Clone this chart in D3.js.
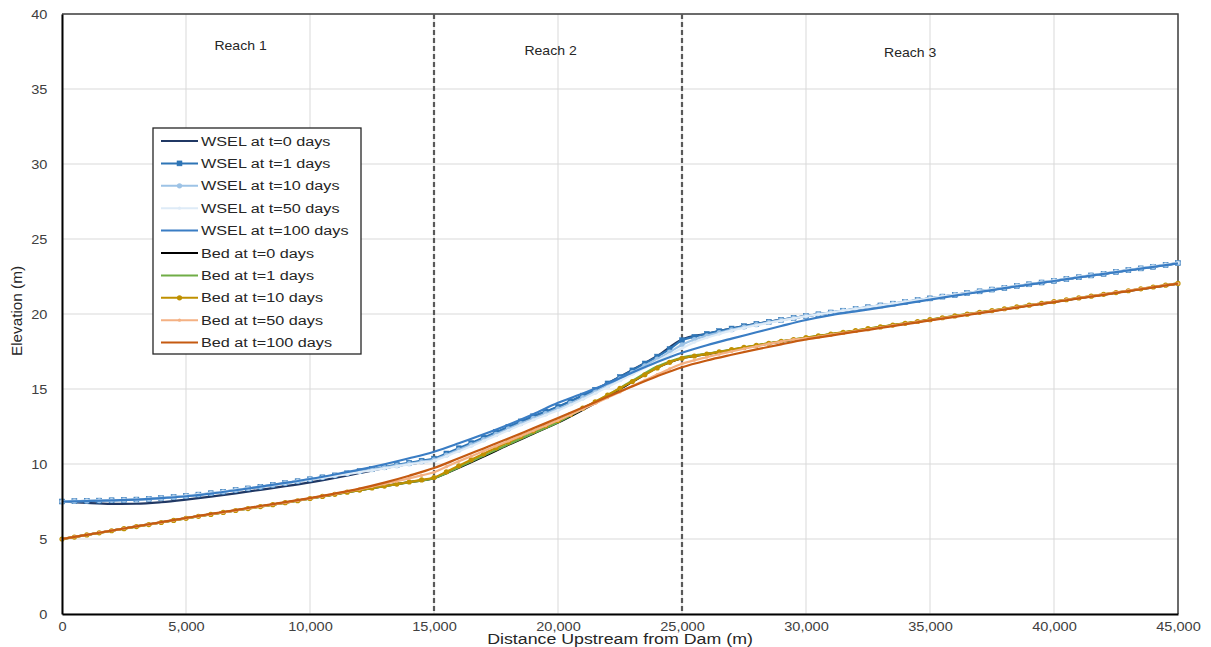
<!DOCTYPE html>
<html>
<head>
<meta charset="utf-8">
<script src="https://cdn.jsdelivr.net/npm/d3@7"></script>
<style>
body { margin: 0; background: #fff; }
svg { display: block; font-family: "Liberation Sans", Arial, sans-serif; }
</style>
</head>
<body>
<svg width="1211" height="647"></svg>
<script>
// cross-section stations (m), every 500 m and every 1000 m
var stations = [0,500,1000,1500,2000,2500,3000,3500,4000,4500,5000,5500,6000,6500,7000,7500,8000,8500,9000,9500,
  10000,10500,11000,11500,12000,12500,13000,13500,14000,14500,15000,15500,16000,16500,17000,17500,18000,18500,19000,19500,
  20000,20500,21000,21500,22000,22500,23000,23500,24000,24500,25000,25500,26000,26500,27000,27500,28000,28500,29000,29500,
  30000,30500,31000,31500,32000,32500,33000,33500,34000,34500,35000,35500,36000,36500,37000,37500,38000,38500,39000,39500,
  40000,40500,41000,41500,42000,42500,43000,43500,44000,44500,45000];
var stationsCoarse = [0,1000,2000,3000,4000,5000,6000,7000,8000,9000,10000,11000,12000,13000,14000,15000,16000,17000,18000,19000,
  20000,21000,22000,23000,24000,25000,26000,27000,28000,29000,30000,31000,32000,33000,34000,35000,36000,37000,38000,39000,
  40000,41000,42000,43000,44000,45000];

// water surface elevations (m)
var wsel0 = [7.50,7.40,7.34,7.35,7.45,7.62,7.82,8.04,8.28,8.52,
  8.78,9.08,9.40,9.72,10.00,10.28,10.95,11.68,12.42,13.12,
  13.80,14.55,15.38,16.27,17.20,18.30,18.68,19.03,19.34,19.61,
  19.86,20.10,20.33,20.57,20.80,21.04,21.27,21.51,21.74,21.98,
  22.21,22.45,22.68,22.92,23.15,23.39];
var wsel1 = [7.50,7.52,7.54,7.56,7.58,7.60,7.63,7.67,7.72,7.79,
  7.87,7.96,8.05,8.15,8.26,8.37,8.48,8.60,8.72,8.85,
  8.98,9.11,9.24,9.38,9.52,9.66,9.80,9.94,10.08,10.22,
  10.36,10.70,11.05,11.40,11.76,12.12,12.48,12.84,13.18,13.50,
  13.82,14.18,14.56,14.95,15.37,15.80,16.24,16.70,17.16,17.66,
  18.25,18.48,18.68,18.86,19.03,19.19,19.34,19.48,19.61,19.74,
  19.86,19.98,20.10,20.22,20.33,20.45,20.57,20.69,20.80,20.92,
  21.04,21.16,21.27,21.39,21.51,21.63,21.74,21.86,21.98,22.10,
  22.21,22.33,22.45,22.57,22.68,22.80,22.92,23.04,23.15,23.27,
  23.39];
var wsel10 = [7.50,7.52,7.54,7.56,7.58,7.60,7.63,7.67,7.72,7.79,
  7.87,7.96,8.05,8.15,8.26,8.37,8.48,8.60,8.72,8.85,
  8.98,9.10,9.23,9.36,9.50,9.63,9.76,9.89,10.02,10.15,
  10.28,10.60,10.94,11.28,11.63,11.98,12.34,12.70,13.04,13.36,
  13.68,14.04,14.42,14.82,15.24,15.67,16.10,16.55,17.00,17.46,
  17.95,18.30,18.55,18.76,18.95,19.13,19.29,19.44,19.59,19.73,
  19.87,19.99,20.11,20.23,20.35,20.46,20.58,20.70,20.82,20.93,
  21.05,21.17,21.29,21.40,21.52,21.64,21.76,21.87,21.99,22.11,
  22.23,22.34,22.46,22.58,22.70,22.81,22.93,23.05,23.17,23.28,
  23.40];
var wsel50 = [7.51,7.53,7.55,7.57,7.59,7.61,7.64,7.68,7.73,7.80,
  7.88,7.97,8.06,8.16,8.27,8.38,8.49,8.61,8.73,8.86,
  8.99,9.08,9.20,9.32,9.45,9.58,9.71,9.84,9.97,10.10,
  10.22,10.52,10.85,11.19,11.54,11.89,12.25,12.60,12.94,13.26,
  13.58,13.94,14.32,14.72,15.13,15.55,15.98,16.42,16.86,17.30,
  17.72,18.12,18.42,18.67,18.89,19.08,19.25,19.41,19.56,19.71,
  19.85,19.98,20.10,20.22,20.34,20.46,20.58,20.70,20.81,20.93,
  21.05,21.17,21.28,21.40,21.52,21.64,21.76,21.88,21.99,22.11,
  22.23,22.35,22.47,22.58,22.70,22.82,22.94,23.06,23.17,23.29,
  23.41];
var wsel100 = [7.50,7.53,7.57,7.63,7.72,7.85,8.03,8.25,8.49,8.74,
  9.00,9.30,9.62,9.98,10.38,10.82,11.38,11.98,12.62,13.32,
  14.08,14.70,15.36,16.10,16.80,17.42,17.92,18.36,18.78,19.20,
  19.60,19.92,20.18,20.42,20.69,20.96,21.22,21.47,21.72,21.96,
  22.20,22.44,22.67,22.91,23.14,23.38];

// bed elevations (m)
var bed0 = [5.00,5.28,5.56,5.84,6.11,6.39,6.65,6.91,7.17,7.43,
  7.70,7.98,8.26,8.53,8.79,9.06,9.75,10.50,11.28,12.02,
  12.76,13.62,14.52,15.48,16.42,17.05,17.32,17.60,17.89,18.16,
  18.40,18.64,18.88,19.12,19.36,19.61,19.85,20.09,20.33,20.57,
  20.81,21.05,21.29,21.54,21.78,22.02];
var bed1 = [5.00,5.27,5.55,5.83,6.10,6.38,6.64,6.90,7.16,7.42,
  7.69,7.97,8.25,8.52,8.78,9.05,9.78,10.55,11.32,12.05,
  12.78,13.68,14.58,15.55,16.50,17.10,17.35,17.62,17.91,18.18,
  18.42,18.66,18.90,19.14,19.38,19.62,19.87,20.11,20.35,20.59,
  20.83,21.07,21.31,21.55,21.80,22.04];
var bed10 = [5.00,5.13,5.27,5.41,5.55,5.69,5.83,5.96,6.10,6.24,
  6.38,6.51,6.64,6.77,6.90,7.03,7.16,7.29,7.42,7.55,
  7.70,7.84,7.98,8.12,8.26,8.40,8.53,8.66,8.80,8.94,
  9.10,9.48,9.88,10.28,10.68,11.08,11.46,11.84,12.20,12.55,
  12.90,13.30,13.72,14.15,14.60,15.05,15.50,15.95,16.40,16.78,
  17.05,17.20,17.33,17.47,17.62,17.77,17.91,18.05,18.18,18.30,
  18.42,18.54,18.66,18.78,18.90,19.02,19.14,19.26,19.38,19.50,
  19.62,19.75,19.87,19.99,20.11,20.23,20.35,20.47,20.59,20.71,
  20.83,20.95,21.07,21.19,21.31,21.43,21.55,21.68,21.80,21.92,
  22.04];
var bed50 = [5.00,5.14,5.28,5.42,5.56,5.70,5.84,5.97,6.11,6.25,
  6.39,6.52,6.65,6.78,6.91,7.04,7.17,7.30,7.43,7.57,
  7.71,7.86,8.01,8.17,8.33,8.50,8.67,8.85,9.04,9.24,
  9.45,9.82,10.18,10.52,10.86,11.20,11.54,11.88,12.22,12.56,
  12.92,13.28,13.66,14.04,14.42,14.80,15.20,15.58,15.96,16.34,
  16.68,16.92,17.12,17.32,17.50,17.68,17.85,18.01,18.16,18.30,
  18.38,18.48,18.61,18.73,18.86,18.98,19.10,19.23,19.35,19.47,
  19.60,19.72,19.84,19.97,20.09,20.21,20.33,20.46,20.58,20.70,
  20.82,20.95,21.07,21.19,21.31,21.44,21.56,21.68,21.80,21.92,
  22.03];
var bed100 = [5.00,5.28,5.56,5.84,6.12,6.40,6.67,6.93,7.20,7.46,
  7.73,8.03,8.36,8.76,9.22,9.73,10.38,11.04,11.70,12.38,
  13.06,13.76,14.48,15.18,15.85,16.45,16.90,17.28,17.64,17.98,
  18.30,18.56,18.82,19.07,19.32,19.57,19.81,20.06,20.30,20.55,
  20.79,21.04,21.28,21.53,21.77,22.02];

var seriesNames = ["WSEL at t=0 days","WSEL at t=1 days","WSEL at t=10 days","WSEL at t=50 days","WSEL at t=100 days",
  "Bed at t=0 days","Bed at t=1 days","Bed at t=10 days","Bed at t=50 days","Bed at t=100 days"];
var xTicks = [0,5000,10000,15000,20000,25000,30000,35000,40000,45000];
var yTicks = [0,5,10,15,20,25,30,35,40];
var reachBounds = [15000, 25000];
var reachNames = ["Reach 1", "Reach 2", "Reach 3"];

var svg = d3.select("svg"),
    plotL = 62, plotR = 1178, plotT = 14, plotB = 614;

var x = d3.scaleLinear().domain([0, 45000]).range([plotL, plotR]),
    y = d3.scaleLinear().domain([0, 40]).range([plotB, plotT]);

// series styles, in drawing order
var series = [
  {xs: stationsCoarse, ys: wsel0,  color: "#203864", marker: null},
  {xs: stations,       ys: wsel1,  color: "#2e75b6", marker: "square"},
  {xs: stations,       ys: wsel10, color: "#9dc3e6", marker: "circle"},
  {xs: stations,       ys: wsel50, color: "#deebf7", marker: "small"},
  {xs: stationsCoarse, ys: wsel100,color: "#3a7dc4", marker: null},
  {xs: stationsCoarse, ys: bed0,   color: "#000000", marker: null},
  {xs: stationsCoarse, ys: bed1,   color: "#70ad47", marker: null},
  {xs: stations,       ys: bed10,  color: "#bf9000", marker: "circle"},
  {xs: stations,       ys: bed50,  color: "#f4b183", marker: "small"},
  {xs: stationsCoarse, ys: bed100, color: "#c55a11", marker: null}
];
series.forEach(function(s, i) {
  s.name = seriesNames[i];
  s.points = s.xs.map(function(d, j) { return [d, s.ys[j]]; });
});

// gridlines
svg.append("g").selectAll("line").data(yTicks).join("line")
    .attr("x1", plotL).attr("x2", plotR)
    .attr("y1", function(d) { return y(d); }).attr("y2", function(d) { return y(d); })
    .attr("stroke", "#d9d9d9").attr("stroke-width", 1);
svg.append("g").selectAll("line").data(xTicks).join("line")
    .attr("x1", function(d) { return x(d); }).attr("x2", function(d) { return x(d); })
    .attr("y1", plotT).attr("y2", plotB)
    .attr("stroke", "#d9d9d9").attr("stroke-width", 1);

// top and right frame
svg.append("path")
    .attr("d", "M" + plotL + "," + plotT + "H" + plotR + "V" + plotB)
    .attr("fill", "none").attr("stroke", "#404040").attr("stroke-width", 1.5);

// reach boundaries
svg.append("g").selectAll("line").data(reachBounds).join("line")
    .attr("x1", function(d) { return x(d); }).attr("x2", function(d) { return x(d); })
    .attr("y1", plotT).attr("y2", plotB)
    .attr("stroke", "#595959").attr("stroke-width", 2.2).attr("stroke-dasharray", "5,3");

// reach labels
var reachPos = [[7200, 37.6], [19700, 37.3], [34200, 37.15]];
svg.append("g").selectAll("text").data(reachNames).join("text")
    .attr("transform", function(d, i) { return "translate(" + x(reachPos[i][0]) + "," + y(reachPos[i][1]) + ") scale(1.08,1)"; })
    .attr("text-anchor", "middle").attr("font-size", 13).attr("fill", "#262626")
    .text(function(d) { return d; });

// lines and markers
var line = d3.line()
    .x(function(d) { return x(d[0]); })
    .y(function(d) { return y(d[1]); })
    .curve(d3.curveMonotoneX);

function drawMarker(g, type, color, px, py) {
  if (type === "square") {
    g.append("rect").attr("x", px - 2.5).attr("y", py - 2.5).attr("width", 5).attr("height", 5)
      .attr("fill", color).attr("stroke", color).attr("stroke-width", 0.5);
  } else if (type === "circle") {
    g.append("circle").attr("cx", px).attr("cy", py).attr("r", 2.6).attr("fill", color);
  } else if (type === "small") {
    g.append("circle").attr("cx", px).attr("cy", py).attr("r", 1.6).attr("fill", color);
  }
}

series.forEach(function(s) {
  var g = svg.append("g");
  g.append("path").datum(s.points)
    .attr("d", line).attr("fill", "none")
    .attr("stroke", s.color).attr("stroke-width", 2.2);
  if (s.marker) {
    s.points.forEach(function(p) { drawMarker(g, s.marker, s.color, x(p[0]), y(p[1])); });
  }
});

// axes
var xAxis = svg.append("g").attr("transform", "translate(0," + plotB + ")")
    .call(d3.axisBottom(x).tickValues(xTicks).tickFormat(d3.format(",")).tickSize(0).tickPadding(8));
var yAxis = svg.append("g").attr("transform", "translate(" + plotL + ",0)")
    .call(d3.axisLeft(y).tickValues(yTicks).tickSize(0).tickPadding(13));
[xAxis, yAxis].forEach(function(a) {
  a.attr("font-family", null).attr("font-size", null);
  a.select(".domain").attr("stroke", "#000").attr("stroke-width", 2);
  a.selectAll("text").attr("font-size", 13).attr("fill", "#404040").attr("transform", "scale(1.12,1)");
});

// axis titles
svg.append("text")
    .attr("transform", "translate(620,644) scale(1.27,1)")
    .attr("text-anchor", "middle").attr("font-size", 14).attr("fill", "#262626")
    .text("Distance Upstream from Dam (m)");
svg.append("text")
    .attr("transform", "translate(22,311) rotate(-90)")
    .attr("text-anchor", "middle").attr("font-size", 14).attr("fill", "#262626")
    .attr("textLength", 90).attr("lengthAdjust", "spacingAndGlyphs")
    .text("Elevation (m)");

// legend
var legend = svg.append("g").attr("transform", "translate(153,128)");
legend.append("rect").attr("width", 208).attr("height", 226)
    .attr("fill", "#fff").attr("stroke", "#262626").attr("stroke-width", 1.3);
series.forEach(function(s, i) {
  var cy = 13 + i * 22.4;
  var item = legend.append("g");
  item.append("line").attr("x1", 8).attr("x2", 45).attr("y1", cy).attr("y2", cy)
    .attr("stroke", s.color).attr("stroke-width", 2);
  if (s.marker) drawMarker(item, s.marker, s.color, 26.5, cy);
  item.append("text")
    .attr("transform", "translate(48," + (cy + 4.6) + ") scale(1.2,1)")
    .attr("font-size", 13.5).attr("fill", "#262626")
    .text(s.name);
});
</script>
</body>
</html>
